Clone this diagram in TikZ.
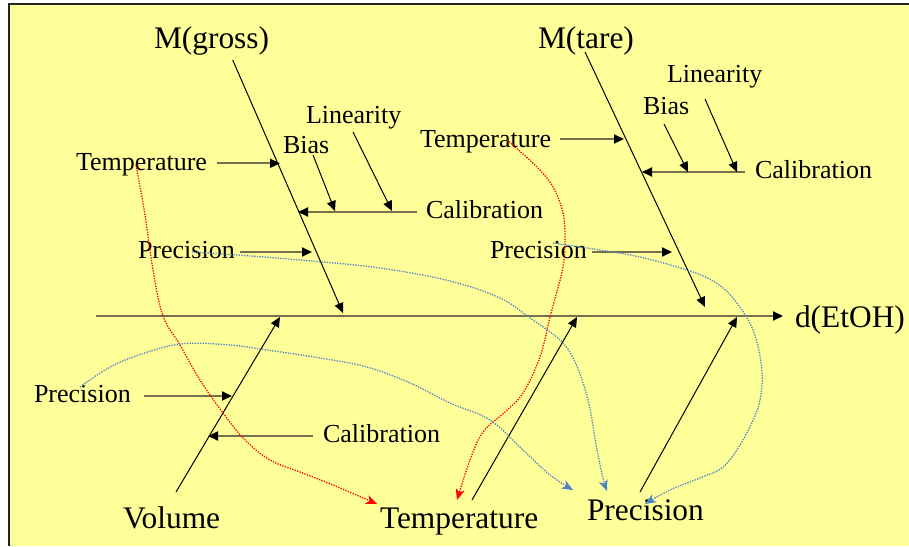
\documentclass[tikz,border=0pt]{standalone}
\usepackage{fontspec}
\setmainfont{Liberation Serif}
\usetikzlibrary{arrows.meta}
\definecolor{bgyellow}{HTML}{FFFF99}
\definecolor{olivegray}{rgb}{0.45,0.44,0.30}
\definecolor{dotblue}{rgb}{0.31,0.51,0.78}
\definecolor{framecol}{HTML}{222222}
\tikzset{
  big/.style={font=\fontsize{31.4}{34}\selectfont, inner sep=0pt, outer sep=0pt, anchor=base west},
  small/.style={font=\fontsize{26}{30}\selectfont, inner sep=0pt, outer sep=0pt, anchor=base west},
  bone/.style={draw=black, line width=1pt, -{Triangle[length=10pt,width=9pt]}},
  hline/.style={draw=olivegray, line width=1.8pt, -{Triangle[length=10pt,width=9pt,color=black]}},
  reddot/.style={draw=red, line width=1.3pt, dash pattern=on 1.3pt off 1.3pt, -{Stealth[length=11pt,width=9pt,inset=3pt,color=red]}},
  bluedot/.style={draw=dotblue, line width=1.3pt, dash pattern=on 1.3pt off 1.3pt, -{Stealth[length=11pt,width=9pt,inset=3pt,color=dotblue]}}
}
\begin{document}
\begin{tikzpicture}[x=1pt,y=-1pt]
\useasboundingbox (0,0) rectangle (909,546);
\fill[white] (0,0) rectangle (909,546);
\fill[bgyellow] (8,3) rectangle (909,546);
\draw[framecol, line width=2pt] (9,546) -- (9,3.5) -- (909,3.5);

% labels
\node[big] (mg) at (154,48) {M(gross)};
\node[big] (mt) at (538,48) {M(tare)};
\node[big] (de) at (795,327) {d(EtOH)};
\node[big] (vo) at (123,528) {Volume};
\node[big] (te) at (380,528) {Temperature};
\node[big] (pr) at (587,520) {Precision};

\node[small] (tg) at (76,170) {Temperature};
\node[small] (bg) at (283,153) {Bias};
\node[small] (lg) at (306,123) {Linearity};
\node[small] (cg) at (426,218) {Calibration};
\node[small] (pg) at (138,258) {Precision};
\node[small] (tt) at (420,147) {Temperature};
\node[small] (lt) at (667,82) {Linearity};
\node[small] (bt) at (643,114) {Bias};
\node[small] (ct) at (755,178) {Calibration};
\node[small] (pt) at (490,258) {Precision};
\node[small] (pv) at (34,402) {Precision};
\node[small] (cv) at (323,442) {Calibration};

% spine
\coordinate (sp0) at (96,316);
\coordinate (sp1) at (783,316);
\draw[hline, line width=2pt] (sp0) -- (sp1);

% main bones
\coordinate (g0) at (232.7,60);  \coordinate (g1) at (343,313);
\coordinate (t0) at (585,52);    \coordinate (t1) at (705,307);
\coordinate (v0) at (176,492);   \coordinate (v1) at (280,317);
\coordinate (e0) at (472,500);   \coordinate (e1) at (577,317);
\coordinate (p0) at (640,492);   \coordinate (p1) at (737,317);
\draw[bone] (g0) -- (g1);
\draw[bone] (t0) -- (t1);
\draw[bone] (v0) -- (v1);
\draw[bone] (e0) -- (e1);
\draw[bone] (p0) -- (p1);

% horizontal branch arrows
\coordinate (tgA) at (217,163.3); \coordinate (tgB) at (280,163.3);
\coordinate (cgA) at (417,212);   \coordinate (cgB) at (298,212);
\coordinate (pgA) at (240,252);   \coordinate (pgB) at (312,252);
\coordinate (ttA) at (560,139);   \coordinate (ttB) at (624,139);
\coordinate (ctA) at (745,172);   \coordinate (ctB) at (642,172);
\coordinate (ptA) at (592,252);   \coordinate (ptB) at (672,252);
\coordinate (pvA) at (144,396);   \coordinate (pvB) at (232,396);
\coordinate (cvA) at (313,436);   \coordinate (cvB) at (208,436);
\draw[hline] (tgA) -- (tgB);
\draw[hline] (cgA) -- (cgB);
\draw[hline] (pgA) -- (pgB);
\draw[hline] (ttA) -- (ttB);
\draw[hline] (ctA) -- (ctB);
\draw[hline] (ptA) -- (ptB);
\draw[hline] (pvA) -- (pvB);
\draw[hline] (cvA) -- (cvB);

% diagonal sub-branches
\coordinate (bgA) at (313,155); \coordinate (bgB) at (335,211);
\coordinate (lgA) at (353,132); \coordinate (lgB) at (392,211);
\coordinate (btA) at (664,124); \coordinate (btB) at (688,172);
\coordinate (ltA) at (705,99);  \coordinate (ltB) at (737,172);
\draw[bone] (bgA) -- (bgB);
\draw[bone] (lgA) -- (lgB);
\draw[bone] (btA) -- (btB);
\draw[bone] (ltA) -- (ltB);

% dotted correlation curves
\coordinate (r1s) at (136,165); \coordinate (r1e) at (377,504);
\draw[reddot] plot[smooth, tension=0.6] coordinates {(r1s) (145,215) (153,270) (163,316) (180,345) (200,380) (223,413) (245,440) (270,460) (300,472) (333,485) (r1e)};
\coordinate (r2s) at (507,140); \coordinate (r2e) at (457,500);
\draw[reddot] plot[smooth, tension=0.6] coordinates {(r2s) (537,167) (553,187) (563,213) (565,240) (563,267) (556,295) (550,317) (540,357) (523,393) (505,412) (483,432) (470,460) (r2e)};
\coordinate (b1s) at (192,252); \coordinate (b1e) at (607,491);
\draw[bluedot] plot[smooth, tension=0.6] coordinates {(b1s) (237,255) (300,260) (380,268) (450,281) (500,298) (530,318) (560,340) (575,362) (588,400) (597,450) (603,478) (b1e)};
\coordinate (b2s) at (80,387); \coordinate (b2e) at (573,490);
\draw[bluedot] plot[smooth, tension=0.6] coordinates {(b2s) (105,370) (133,357) (180,344) (230,345) (267,350) (320,358) (367,367) (410,383) (450,403) (490,420) (523,450) (550,475) (b2e)};
\coordinate (b3s) at (553,243); \coordinate (b3e) at (645,504);
\draw[bluedot] plot[smooth, tension=0.6] coordinates {(b3s) (600,250) (640,257) (687,270) (713,281) (733,298) (753,330) (762,370) (760,400) (753,420) (740,445) (723,467) (700,478) (670,490) (b3e)};
\end{tikzpicture}
\end{document}
